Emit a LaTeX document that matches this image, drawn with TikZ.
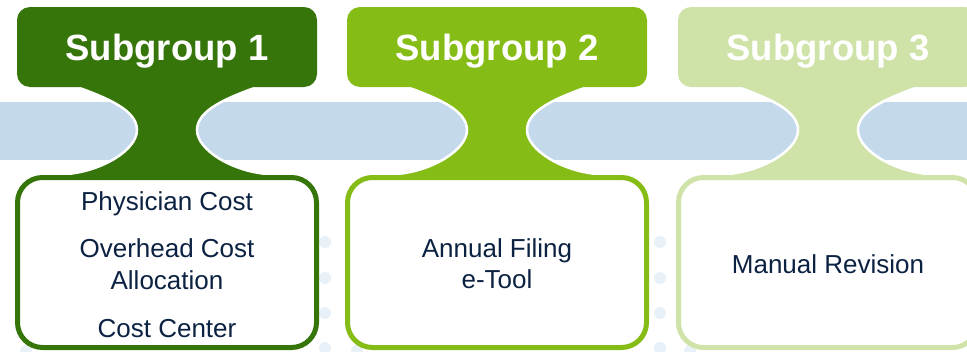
\documentclass[tikz,border=0pt]{standalone}
\usepackage{fontspec}
\setmainfont{Liberation Sans}
\definecolor{gone}{HTML}{36750A}
\definecolor{gtwo}{HTML}{85BD16}
\definecolor{gthree}{HTML}{CFE3A8}
\definecolor{bandblue}{HTML}{C5D9ED}
\definecolor{dotblue}{HTML}{E8F0F8}
\definecolor{ink}{HTML}{0C2242}
\tikzset{
  hdr/.style={rounded corners=13pt, minimum width=300pt, minimum height=80pt,
    inner sep=0pt, text=white, text height=27pt, text depth=0pt,
    font=\bfseries\fontsize{36.5}{40}\selectfont},
  itembox/.style={draw, line width=5pt, fill=white, rounded corners=25pt,
    minimum width=299pt, minimum height=170pt, inner sep=0pt},
  itemtext/.style={anchor=base, inner sep=0pt, text=ink,
    font=\fontsize{26}{30}\selectfont},
  bgdot/.style={fill=dotblue},
  neckfill/.style={draw=white, line width=2.5pt}
}
\begin{document}
\begin{tikzpicture}[x=1pt,y=-1pt]
\useasboundingbox (0,0) rectangle (967,351);

% horizontal band behind the subgroups
\fill[bandblue] (0,102) rectangle (967,160);

% dotted separators between the item boxes
\foreach \dx in {325,660}
  \foreach \dy in {242,278,313,348}
    \fill[bgdot] (\dx,\dy) circle[radius=6pt];
\foreach \dx in {26,357,690}
  \fill[bgdot] (\dx,351) circle[radius=6pt];

% waisted necks joining each header to its box
\foreach \cx/\col in {167/gone,497/gtwo,828/gthree}{
  \begin{scope}[shift={(\cx,0)}]
    \fill[\col, neckfill]
      (-92,84) -- (-90,87)
      .. controls (-60,98) and (-30,110) .. (-30,130)
      .. controls (-30,150) and (-65,171) .. (-100,174)
      -- (-100,181) -- (100,181) -- (100,174)
      .. controls (65,171) and (30,150) .. (30,130)
      .. controls (30,110) and (60,98) .. (90,87)
      -- (92,84) -- cycle;
  \end{scope}
}

% item boxes
\node[itembox, draw=gone]   (b1) at (167,262.5) {};
\node[itembox, draw=gtwo]   (b2) at (497,262.5) {};
\node[itembox, draw=gthree] (b3) at (828,262.5) {};

% headers
\node[hdr, fill=gone]   (h1) at (167,47) {Subgroup 1};
\node[hdr, fill=gtwo]   (h2) at (497,47) {Subgroup 2};
\node[hdr, fill=gthree] (h3) at (828,47) {Subgroup 3};

% box contents
\node[itemtext] (t11) at (167,210) {Physician Cost};
\node[itemtext] (t12) at (167,257) {Overhead Cost};
\node[itemtext] (t13) at (167,289) {Allocation};
\node[itemtext] (t14) at (167,337) {Cost Center};
\node[itemtext] (t21) at (497,257) {Annual Filing};
\node[itemtext] (t22) at (497,288) {e-Tool};
\node[itemtext] (t31) at (828,273) {Manual Revision};
\end{tikzpicture}
\end{document}
